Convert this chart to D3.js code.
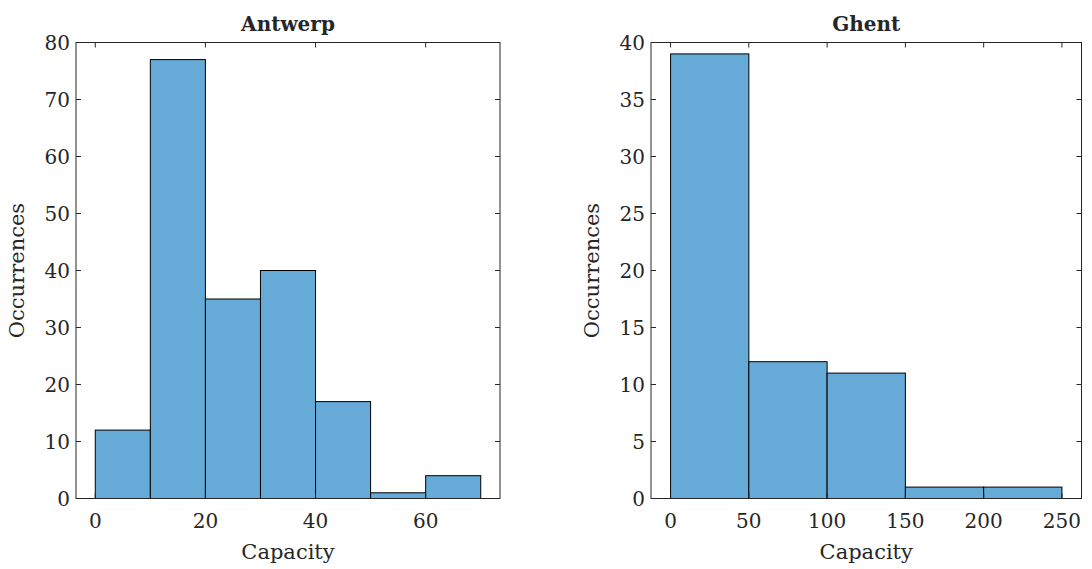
<!DOCTYPE html>
<html>
<head>
<meta charset="utf-8">
<script src="https://cdn.jsdelivr.net/npm/d3@7"></script>
<style>
    body { margin: 0; background: #fff; }
</style>
</head>
<body>
<svg id="chart" width="1092" height="569" font-family="'DejaVu Serif', 'Liberation Serif', serif"></svg>
<script>
// Antwerp histogram
const antwerpEdges = [0, 10, 20, 30, 40, 50, 60, 70];
const antwerpCounts = [12, 77, 35, 40, 17, 1, 4];
const antwerpXTicks = [0, 20, 40, 60];
const antwerpYTicks = [0, 10, 20, 30, 40, 50, 60, 70, 80];

// Ghent histogram
const ghentEdges = [0, 50, 100, 150, 200, 250];
const ghentCounts = [39, 12, 11, 1, 1];
const ghentXTicks = [0, 50, 100, 150, 200, 250];
const ghentYTicks = [0, 5, 10, 15, 20, 25, 30, 35, 40];

const svg = d3.select('#chart');
const axisColor = '#262626';
const barColor = 'rgb(102,170,215)';
const tickLen = 5;

function drawHist(opts) {
    const { left, right, top, bottom, xDomain, yMax, edges, counts, xTicks, yTicks, title } = opts;

    const x = d3.scaleLinear().domain(xDomain).range([left, right]);
    const y = d3.scaleLinear().domain([0, yMax]).range([bottom, top]);

    const bins = counts.map((c, i) => ({ x0: edges[i], x1: edges[i + 1], n: c }));

    const g = svg.append('g').style('fill', axisColor);

    // bars
    g.selectAll('rect.bar')
        .data(bins)
        .enter()
        .append('rect')
        .attr('class', 'bar')
        .attr('x', d => x(d.x0))
        .attr('y', d => y(d.n))
        .attr('width', d => x(d.x1) - x(d.x0))
        .attr('height', d => y(0) - y(d.n))
        .style('fill', barColor)
        .style('stroke', '#000')
        .style('stroke-width', 1);

    // box
    g.append('rect')
        .attr('x', left)
        .attr('y', top)
        .attr('width', right - left)
        .attr('height', bottom - top)
        .style('fill', 'none')
        .style('stroke', axisColor)
        .style('stroke-width', 1);

    // x ticks (bottom and top, inward)
    xTicks.forEach(t => {
        g.append('line')
            .attr('x1', x(t)).attr('x2', x(t))
            .attr('y1', bottom).attr('y2', bottom - tickLen)
            .style('stroke', axisColor);
        g.append('line')
            .attr('x1', x(t)).attr('x2', x(t))
            .attr('y1', top).attr('y2', top + tickLen)
            .style('stroke', axisColor);
    });
    g.selectAll('text.xtick')
        .data(xTicks)
        .enter()
        .append('text')
        .attr('class', 'xtick')
        .attr('x', d => x(d))
        .attr('y', bottom + 29)
        .attr('text-anchor', 'middle')
        .style('font-size', '20px')
        .text(d => d);

    // y ticks (left and right, inward)
    yTicks.forEach(t => {
        g.append('line')
            .attr('x1', left).attr('x2', left + tickLen)
            .attr('y1', y(t)).attr('y2', y(t))
            .style('stroke', axisColor);
        g.append('line')
            .attr('x1', right).attr('x2', right - tickLen)
            .attr('y1', y(t)).attr('y2', y(t))
            .style('stroke', axisColor);
    });
    g.selectAll('text.ytick')
        .data(yTicks)
        .enter()
        .append('text')
        .attr('class', 'ytick')
        .attr('x', left - 6)
        .attr('y', d => y(d))
        .attr('dy', '0.35em')
        .attr('text-anchor', 'end')
        .style('font-size', '20px')
        .text(d => d);

    // labels
    g.append('text')
        .attr('x', (left + right) / 2)
        .attr('y', bottom + 60)
        .attr('text-anchor', 'middle')
        .style('font-size', '21px')
        .text('Capacity');

    g.append('text')
        .attr('transform', `translate(${left - 52},${(top + bottom) / 2}) rotate(-90)`)
        .attr('text-anchor', 'middle')
        .style('font-size', '21px')
        .text('Occurrences');

    g.append('text')
        .attr('x', (left + right) / 2)
        .attr('y', top - 12)
        .attr('text-anchor', 'middle')
        .style('font-size', '20px')
        .style('font-weight', 'bold')
        .text(title);
}

drawHist({
    left: 76, right: 500, top: 42.5, bottom: 498.5,
    xDomain: [-3.5, 73.5], yMax: 80,
    edges: antwerpEdges, counts: antwerpCounts,
    xTicks: antwerpXTicks, yTicks: antwerpYTicks,
    title: 'Antwerp'
});

drawHist({
    left: 651, right: 1081.5, top: 42.5, bottom: 498.5,
    xDomain: [-12.5, 262.5], yMax: 40,
    edges: ghentEdges, counts: ghentCounts,
    xTicks: ghentXTicks, yTicks: ghentYTicks,
    title: 'Ghent'
});
</script>
</body>
</html>
